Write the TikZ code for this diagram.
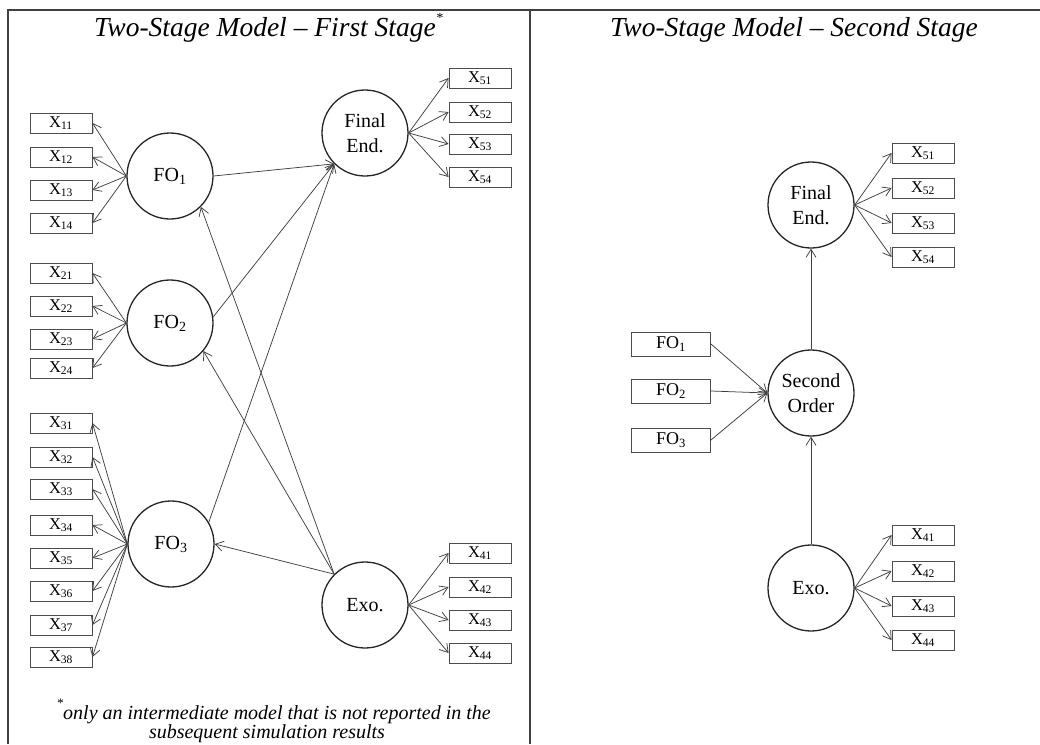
\documentclass[tikz,border=0pt]{standalone}
\usepackage{fontspec}
\setmainfont{Liberation Serif}
\usetikzlibrary{arrows.meta}

\begin{document}
\begin{tikzpicture}[x=1pt,y=-1pt,
  lat/.style={circle,draw=black!85,line width=1.3pt,minimum size=86pt,inner sep=0pt,
    align=center,font=\fontsize{20}{25}\selectfont},
  ind/.style={draw=black!70,line width=0.9pt,minimum width=62pt,minimum height=20pt,
    inner sep=0pt,font=\fontsize{16.5}{18}\selectfont},
  fobox/.style={draw=black!70,line width=0.9pt,minimum width=79pt,minimum height=24pt,
    inner sep=0pt,font=\fontsize{18}{20}\selectfont},
  conn/.style={draw=black!75,line width=0.75pt,-{Straight Barb[length=8pt,width=10pt]}},
  frame/.style={draw=black!75,line width=1.5pt},
  ttl/.style={font=\fontsize{27.5}{30}\selectfont\itshape,inner sep=0pt},
  note/.style={font=\fontsize{20}{22}\selectfont\itshape,inner sep=0pt,align=center}
]
\useasboundingbox (0,0) rectangle (1040,744);

% panel frame
\draw[frame] (1040,10) -- (8,10) -- (8,744);
\draw[frame] (530,10) -- (530,744);

% titles
\node[ttl,anchor=base] (t1) at (265,36) {Two-Stage Model -- First Stage\rlap{\raisebox{1.1ex}{\fontsize{14}{14}\selectfont *}}};
\node[ttl,anchor=base] (t2) at (794,36) {Two-Stage Model -- Second Stage};

% ---------- first stage ----------
\node[lat] (fo1) at (170,176) {FO\textsubscript{1}};
\node[lat] (fo2) at (170,323) {FO\textsubscript{2}};
\node[lat] (fo3) at (171,544) {FO\textsubscript{3}};
\node[lat] (finL) at (365,133) {Final\\End.};
\node[lat] (exoL) at (365,605) {Exo.};

\foreach \j/\y in {1/123,2/157,3/190,4/223}
  \node[ind] (x1\j) at (61,\y) {X\textsubscript{1\j}};
\foreach \j/\y in {1/273,2/306,3/339,4/368}
  \node[ind] (x2\j) at (61,\y) {X\textsubscript{2\j}};
\foreach \j/\y in {1/423,2/457,3/489,4/525,5/558,6/591,7/625,8/657}
  \node[ind] (x3\j) at (61,\y) {X\textsubscript{3\j}};
\foreach \j/\y in {1/78,2/112,3/144,4/177}
  \node[ind] (x5\j) at (480,\y) {X\textsubscript{5\j}};
\foreach \j/\y in {1/553,2/587,3/620,4/653}
  \node[ind] (x4\j) at (480,\y) {X\textsubscript{4\j}};

\foreach \j in {1,...,4} {
  \draw[conn] (fo1.west) -- (x1\j.east);
  \draw[conn] (fo2.west) -- (x2\j.east);
  \draw[conn] (finL.east) -- (x5\j.west);
  \draw[conn] (exoL.east) -- (x4\j.west);
}
\foreach \j in {1,...,8}
  \draw[conn] (fo3.west) -- (x3\j.east);

\draw[conn] (fo1.east) -- (finL.225);
\draw[conn] (fo2.8) -- (finL.225);
\draw[conn] (fo3.30) -- (finL.225);
\draw[conn] (exoL.135) -- (fo1.-45);
\draw[conn] (exoL.135) -- (fo2.-40);
\draw[conn] (exoL.135) -- (fo3.east);

% footnote
\node[note,anchor=base] (n1) at (277,719) {\llap{\raisebox{1.2ex}{\fontsize{13}{13}\selectfont *}}only an intermediate model that is not reported in the};
\node[note,anchor=base] (n2) at (267,738) {subsequent simulation results};

% ---------- second stage ----------
\node[lat] (finR) at (811,205) {Final\\End.};
\node[lat] (sec) at (811,393) {Second\\Order};
\node[lat] (exoR) at (811,588) {Exo.};

\foreach \j/\y in {1/153,2/188,3/223,4/257}
  \node[ind] (r5\j) at (923,\y) {X\textsubscript{5\j}};
\foreach \j/\y in {1/535,2/571,3/606,4/640}
  \node[ind] (r4\j) at (923,\y) {X\textsubscript{4\j}};
\foreach \j/\y in {1/344,2/391,3/440}
  \node[fobox] (f\j) at (671,\y) {FO\textsubscript{\j}};

\foreach \j in {1,...,4} {
  \draw[conn] (finR.east) -- (r5\j.west);
  \draw[conn] (exoR.east) -- (r4\j.west);
}
\foreach \j in {1,2,3}
  \draw[conn] (f\j.east) -- (sec.west);
\draw[conn] (sec.north) -- (finR.south);
\draw[conn] (exoR.north) -- (sec.south);
\end{tikzpicture}
\end{document}
